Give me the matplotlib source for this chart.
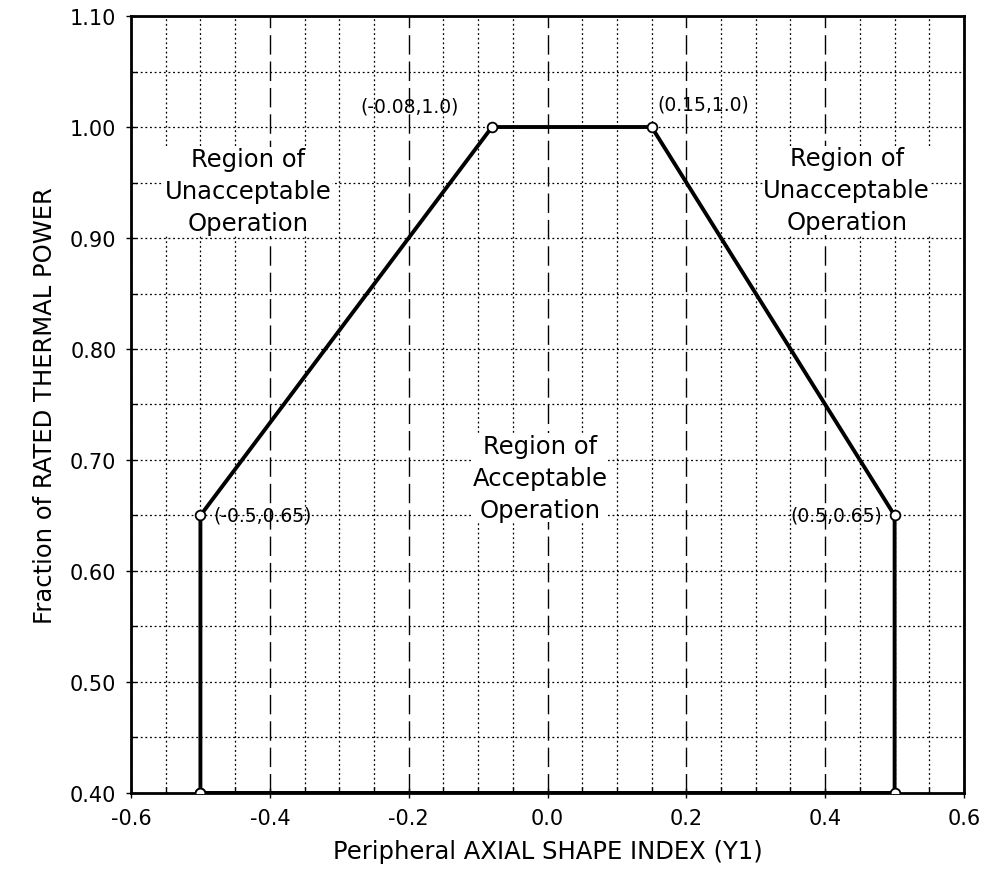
import matplotlib
matplotlib.use("Agg")
import matplotlib.pyplot as plt
from matplotlib.ticker import MultipleLocator, FormatStrFormatter

plt.rcParams['font.family'] = ['DejaVu Sans']
plt.rcParams['axes.unicode_minus'] = False

# Data
asi = [-0.5, -0.5, -0.08, 0.15, 0.5, 0.5, -0.5]
power = [0.40, 0.65, 1.00, 1.00, 0.65, 0.40, 0.40]
vertex_labels = ["(-0.08,1.0)", "(0.15,1.0)", "(-0.5,0.65)", "(0.5,0.65)"]
vertex_xy = [(-0.08, 1.0), (0.15, 1.0), (-0.5, 0.65), (0.5, 0.65)]
region_text = ["Region of\nUnacceptable\nOperation", "Region of\nAcceptable\nOperation",
               "Region of\nUnacceptable\nOperation"]
region_xy = [(-0.431, 0.942), (-0.011, 0.684), (0.431, 0.943)]

fig = plt.figure(figsize=(9.82, 8.87), dpi=100)
ax = fig.add_axes([0.1334, 0.1049, 0.9817 - 0.1334, 0.9808 - 0.1049])
ax.set_xlim(-0.6, 0.6)
ax.set_ylim(0.40, 1.10)

ax.xaxis.set_major_locator(MultipleLocator(0.2))
ax.xaxis.set_minor_locator(MultipleLocator(0.05))
ax.yaxis.set_major_locator(MultipleLocator(0.1))
ax.yaxis.set_minor_locator(MultipleLocator(0.05))
ax.xaxis.set_major_formatter(FormatStrFormatter('%.1f'))
ax.yaxis.set_major_formatter(FormatStrFormatter('%.2f'))

ax.grid(which='minor', axis='x', color='black', linestyle=(0, (1.5, 2.2)), linewidth=0.9)
ax.grid(which='major', axis='x', color='black', linestyle=(0, (14, 5)), linewidth=1.0)
ax.grid(which='both', axis='y', color='black', linestyle=(0, (1.5, 2.2)), linewidth=0.9)
ax.set_axisbelow(True)

ax.plot(asi, power, color='black', linewidth=2.8, marker='o', markersize=7,
        markerfacecolor='white', markeredgecolor='black', markeredgewidth=1.3, zorder=3)

for s in ax.spines.values():
    s.set_linewidth(2.0)

ax.tick_params(which='major', direction='inout', length=7, width=1.0, labelsize=15, pad=7)
ax.tick_params(which='minor', direction='in', length=4, width=1.0)

fs_v = 13.5
ax.text(vertex_xy[0][0] - 0.048, vertex_xy[0][1] + 0.019, vertex_labels[0], ha='right', va='center', fontsize=fs_v)
ax.text(vertex_xy[1][0] + 0.008, vertex_xy[1][1] + 0.021, vertex_labels[1], ha='left', va='center', fontsize=fs_v)
ax.text(vertex_xy[2][0] + 0.018, vertex_xy[2][1], vertex_labels[2], ha='left', va='center', fontsize=fs_v)
ax.text(vertex_xy[3][0] - 0.018, vertex_xy[3][1], vertex_labels[3], ha='right', va='center', fontsize=fs_v)

for t, (x, y) in zip(region_text, region_xy):
    ax.text(x, y, t, ha='center', va='center', fontsize=17.5, linespacing=1.42,
            bbox=dict(facecolor='white', edgecolor='none', pad=0.5))

ax.set_xlabel("Peripheral AXIAL SHAPE INDEX (Y1)", fontsize=17.5, labelpad=8)
ax.set_ylabel("Fraction of RATED THERMAL POWER", fontsize=17.5, labelpad=9)

fig.savefig("out.png", dpi=100)
